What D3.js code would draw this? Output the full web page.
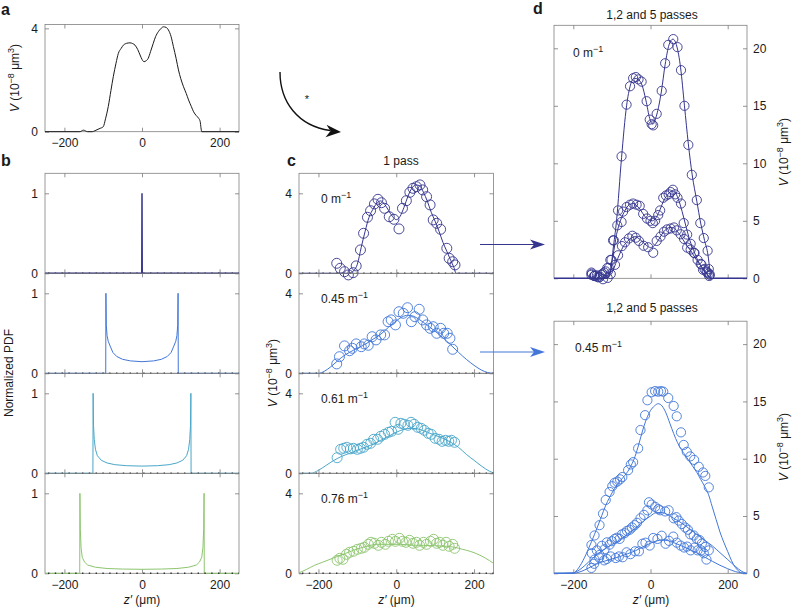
<!DOCTYPE html>
<html><head><meta charset="utf-8">
<script src="https://cdn.jsdelivr.net/npm/d3@7"></script>
<style>body{margin:0;background:#fff}</style>
</head><body><svg id="c" width="792" height="612"></svg>
<script>
// ---------------- DATA ----------------
const zDomain = [-250, 250];
const zTicks = [-200, 0, 200];
const aTicks = [0, 4];
const bTicks = [0, 1];
const cTicks = [0, 4];
const dTicks = [0, 5, 10, 15, 20];
const fieldLabels = ["0", "0.45", "0.61", "0.76"];
const colors = ["#35358f", "#4277d8", "#4aa7c9", "#8dc56f"];

// panel a: initial profile
const profileA = [[-250,0],[-160,0],[-151,0.06],[-140,0],[-128,0],[-121,0.04],[-108,0.13],[-100,0.19],[-94,0.5],[-87,0.97],[-80,1.6],[-74,2.13],[-67,2.65],[-61,3.03],[-54,3.22],[-48,3.35],[-40,3.42],[-31,3.44],[-24,3.41],[-18,3.35],[-11,3.18],[-5,2.97],[0,2.8],[5,2.71],[10,2.74],[16,2.84],[22,3.1],[29,3.42],[35,3.68],[42,3.87],[48,3.98],[55,4.06],[62,4.04],[68,3.94],[75,3.68],[81,3.29],[88,2.83],[94,2.39],[100,2.05],[107,1.74],[114,1.48],[120,1.23],[127,0.98],[133,0.77],[140,0.62],[146,0.52],[150,0.39],[152,0.15],[154,0],[250,0]];

// panel b: normalized PDFs
const pdf0 = [[-250,0],[-0.6,0],[0,1],[0.6,0],[250,0]];
const pdf45 = [[-250,0],[-93.5,0],[-93,1],[-92,0.6],[-90,0.47],[-87,0.4],[-82,0.34],[-75,0.26],[-65,0.21],[-50,0.175],[-30,0.155],[0,0.145],[30,0.155],[50,0.175],[65,0.21],[75,0.26],[82,0.34],[87,0.4],[90,0.47],[92,0.6],[93,1],[93.5,0],[250,0]];
const pdf61 = [[-250,0],[-126.5,0],[-126,1],[-125,0.6],[-123,0.42],[-120,0.3],[-115,0.22],[-105,0.163],[-90,0.129],[-70,0.108],[-40,0.095],[0,0.09],[40,0.095],[70,0.108],[90,0.129],[105,0.163],[115,0.22],[120,0.3],[123,0.42],[125,0.6],[126,1],[126.5,0],[250,0]];
const pdf76 = [[-250,0],[-160.5,0],[-160,1],[-159,0.55],[-157,0.32],[-154,0.2],[-148,0.14],[-140,0.103],[-120,0.076],[-90,0.06],[-50,0.053],[0,0.05],[50,0.053],[90,0.06],[120,0.076],[140,0.103],[148,0.14],[154,0.2],[157,0.32],[159,0.55],[160,1],[160.5,0],[250,0]];

// panel c: 1 pass, measured (circles) and model (line)
const pass1Pts0 = [[-153,0.5],[-144,0.25],[-133,0.08],[-123,-0.08],[-111,0.03],[-103,0.37],[-92,1.17],[-84,2.0],[-74,2.8],[-66,3.13],[-56,3.47],[-47,3.7],[-38,3.53],[-30,3.25],[-18,2.83],[-6,2.7],[7,2.22],[16,3.25],[26,3.63],[35,4.05],[43,4.25],[52,4.33],[61,4.42],[68,4.17],[78,3.83],[87,3.42],[95,2.67],[104,2.5],[114,2.2],[130,1.25],[136,0.75],[145,0.58],[151,0.42]];
const pass1Line0 = [[-250,0],[-120,0],[-110,0.12],[-100,0.45],[-90,1.3],[-80,2.1],[-70,2.8],[-60,3.2],[-50,3.5],[-40,3.62],[-30,3.45],[-20,3.15],[-10,2.85],[0,2.68],[10,2.85],[20,3.3],[30,3.85],[40,4.25],[50,4.42],[60,4.38],[70,4.05],[80,3.6],[90,3.05],[100,2.6],[110,2.1],[120,1.55],[130,1.1],[140,0.65],[148,0.3],[154,0],[250,0]];
const pass1Pts45 = [[-153,0.47],[-146,0.83],[-133,1.37],[-120,1.13],[-113,1.25],[-103,1.47],[-90,1.33],[-82,1.47],[-72,1.4],[-62,1.83],[-52,1.67],[-40,1.92],[-30,1.92],[-21,2.58],[-13,2.67],[-2,2.42],[7,3.08],[18,3.0],[29,3.28],[39,2.58],[48,2.83],[59,3.2],[68,2.67],[78,2.42],[87,2.25],[95,2.33],[104,2.0],[114,2.25],[122,2.0],[131,2.0],[138,1.75],[145,1.2]];
const pass1Line45 = [[-250,0],[-200,0],[-185,0.1],[-170,0.3],[-155,0.55],[-140,0.8],[-120,1.05],[-100,1.25],[-80,1.45],[-60,1.7],[-40,1.95],[-20,2.3],[0,2.62],[15,2.82],[30,2.9],[45,2.85],[60,2.68],[80,2.4],[100,2.1],[120,1.78],[140,1.42],[160,1.05],[180,0.7],[200,0.4],[220,0.15],[235,0.04],[250,0]];
const pass1Pts61 = [[-152,0.78],[-143,1.2],[-135,1.25],[-127,1.3],[-118,1.22],[-110,1.25],[-100,1.2],[-92,1.25],[-84,1.3],[-75,1.45],[-66,1.5],[-58,1.7],[-48,1.7],[-40,1.85],[-30,1.95],[-20,2.05],[-12,2.1],[-3,2.55],[5,2.2],[12,2.5],[20,2.45],[30,2.4],[38,2.55],[46,2.45],[55,2.3],[64,2.25],[72,2.15],[82,2.0],[90,1.95],[100,1.75],[110,1.7],[118,1.6],[127,1.65],[135,1.6],[142,1.65],[150,1.55]];
const pass1Line61 = [[-250,0],[-220,0],[-200,0.15],[-180,0.4],[-160,0.65],[-140,0.85],[-120,1.0],[-100,1.15],[-80,1.3],[-60,1.45],[-40,1.65],[-20,1.85],[0,2.05],[20,2.2],[40,2.25],[60,2.2],[80,2.05],[100,1.9],[120,1.75],[140,1.55],[160,1.3],[180,0.95],[200,0.65],[220,0.35],[240,0.1],[250,0.02]];
const pass1Pts76 = [[-152,0.65],[-145,0.75],[-137,0.7],[-128,0.95],[-120,1.05],[-110,1.1],[-100,1.2],[-90,1.25],[-82,1.3],[-72,1.45],[-65,1.55],[-56,1.5],[-46,1.4],[-38,1.55],[-28,1.45],[-20,1.6],[-10,1.7],[-2,1.6],[8,1.75],[16,1.6],[25,1.55],[34,1.65],[43,1.5],[52,1.55],[60,1.4],[70,1.55],[78,1.45],[88,1.6],[96,1.7],[104,1.5],[112,1.55],[120,1.4],[128,1.55],[136,1.35],[145,1.45],[150,1.25]];
const pass1Line76 = [[-250,0.02],[-230,0.2],[-210,0.4],[-190,0.55],[-170,0.7],[-150,0.85],[-130,1.0],[-110,1.15],[-90,1.28],[-70,1.38],[-50,1.45],[-30,1.45],[-10,1.45],[10,1.45],[30,1.42],[50,1.4],[70,1.4],[90,1.38],[110,1.37],[130,1.35],[150,1.3],[170,1.2],[190,1.1],[210,0.95],[230,0.75],[250,0.5]];

// panel d: 2 and 5 passes
const pass2Pts0 = [[-152,0.4],[-145,0.2],[-137,0.1],[-128,0.3],[-120,0.5],[-112,0.9],[-104,1.6],[-97,3.3],[-86,4.6],[-75,4.9],[-71,5.8],[-62,6.2],[-53,6.4],[-45,6.5],[-36,6.4],[-28,6.3],[-19,5.6],[-9,5.2],[0,5.0],[6,4.8],[12,5.0],[20,5.5],[25,5.9],[33,7.0],[40,7.2],[47,7.3],[52,7.5],[58,7.7],[64,7.3],[70,7.0],[79,6.5],[86,4.8],[95,3.8],[104,3.0],[113,2.2],[122,1.6],[132,1.2],[140,0.8],[147,0.5],[152,0.2]];
const pass2Line0 = [[-250,0],[-115,0],[-106,0.4],[-97,2.0],[-88,3.8],[-78,5.0],[-66,5.9],[-55,6.4],[-45,6.5],[-35,6.3],[-25,5.9],[-15,5.4],[-5,5.1],[5,5.0],[15,5.3],[25,6.0],[35,6.8],[45,7.3],[55,7.6],[63,7.5],[72,6.9],[82,5.8],[92,4.5],[102,3.3],[112,2.4],[122,1.6],[132,1.0],[142,0.5],[150,0.2],[155,0],[250,0]];
const pass5Pts0 = [[-153,0.3],[-146,0.2],[-139,0.25],[-131,0.15],[-124,0.4],[-116,0.6],[-108,0.9],[-101,1.6],[-95,3.3],[-84,5.9],[-75,10.6],[-62,15.1],[-53,16.7],[-45,17.4],[-38,17.5],[-31,17.3],[-23,17.1],[-10,15.4],[-2,13.8],[3,13.4],[7,13.3],[16,14.3],[29,16.3],[38,18.7],[46,20.3],[59,20.8],[70,20.1],[79,18.1],[88,15.0],[98,11.6],[107,9.0],[120,6.8],[129,4.8],[138,3.5],[148,2.4],[151,0.8],[154,0.3]];
const pass5Line0 = [[-250,0],[-112,0],[-104,0.5],[-97,2.5],[-88,5.0],[-75,10.5],[-62,15.0],[-52,16.8],[-42,17.4],[-32,17.3],[-22,16.8],[-12,15.5],[-2,13.9],[6,13.4],[16,14.2],[28,16.2],[38,18.6],[48,20.3],[58,20.8],[68,20.2],[78,18.3],[88,15.0],[98,11.7],[108,9.0],[120,6.7],[130,4.8],[140,3.3],[149,2.0],[154,0.6],[156,0],[250,0]];
const pass2Pts45 = [[-152,1.75],[-145,1.2],[-139,2.0],[-132,1.6],[-126,2.4],[-119,2.1],[-113,2.7],[-106,2.5],[-100,2.8],[-93,3.0],[-87,3.1],[-80,3.0],[-74,3.4],[-67,3.5],[-61,3.7],[-54,3.8],[-48,4.0],[-41,4.2],[-35,4.4],[-26,4.8],[-17,5.1],[-8,5.5],[-4,6.2],[3,6.0],[12,5.8],[20,5.6],[25,5.5],[38,5.4],[47,5.5],[60,4.8],[67,4.9],[73,4.6],[81,4.3],[90,4.0],[97,3.8],[103,3.4],[112,3.3],[120,3.0],[127,2.9],[133,2.6],[142,2.3],[151,2.0]];
const pass2Line45 = [[-250,0],[-200,0.05],[-180,0.4],[-160,1.0],[-140,1.6],[-120,2.1],[-100,2.5],[-80,2.9],[-60,3.4],[-40,3.9],[-20,4.5],[0,5.0],[15,5.3],[30,5.3],[45,5.1],[60,4.8],[80,4.4],[100,3.9],[120,3.4],[140,2.9],[160,2.4],[180,1.8],[200,1.2],[220,0.6],[235,0.2],[248,0]];
const pass5Pts45 = [[-153,2.47],[-145,3.3],[-132,4.2],[-123,5.2],[-116,6.4],[-106,7.1],[-99,7.6],[-93,7.9],[-86,8.0],[-79,8.2],[-73,8.4],[-58,9.0],[-51,9.5],[-45,9.7],[-32,10.9],[-26,12.5],[-14,13.8],[-8,15.1],[3,15.8],[12,15.9],[20,15.85],[27,15.9],[33,15.85],[46,15.3],[60,14.6],[68,13.7],[79,12.3],[86,11.2],[94,10.6],[103,10.2],[113,9.9],[125,9.3],[136,8.8],[142,8.5],[151,7.5]];
const pass5Line45 = [[-250,0],[-200,0],[-190,0.3],[-175,1.1],[-160,2.2],[-145,3.4],[-130,4.7],[-115,6.0],[-100,7.0],[-85,7.8],[-70,8.4],[-55,9.1],[-40,10.2],[-30,11.3],[-20,12.5],[-10,13.5],[0,14.2],[10,14.6],[20,14.8],[30,14.6],[40,14.0],[50,13.1],[60,12.2],[70,11.4],[80,10.8],[90,10.3],[100,9.8],[110,9.3],[120,8.8],[130,8.2],[140,7.6],[150,6.9],[160,5.8],[170,4.7],[180,3.6],[190,2.7],[200,1.9],[210,1.1],[220,0.5],[230,0.15],[240,0],[250,0]];

// ---------------- DRAWING ----------------
const FONT = "'Liberation Sans', Arial, Helvetica, sans-serif";
const FS = 12;
const svg = d3.select("#c");

function styleAxis(a) {
  a.select(".domain").remove();
  a.selectAll("line").attr("stroke", "#777").attr("stroke-width", 0.8);
  a.selectAll("text").attr("font-family", FONT).attr("font-size", FS).attr("fill", "#1a1a1a");
  return a;
}

function frame(xr, yr, yDom, yTickVals, opts) {
  const x = d3.scaleLinear().domain(zDomain).range(xr);
  const y = d3.scaleLinear().domain(yDom).range(yr);
  const g = svg.append("g");
  g.append("rect").attr("x", xr[0]).attr("y", yr[1]).attr("width", xr[1] - xr[0])
    .attr("height", yr[0] - yr[1]).attr("fill", "none").attr("stroke", "#808080").attr("stroke-width", 0.8);
  styleAxis(g.append("g").attr("transform", `translate(0,${yr[0]})`)
    .call(d3.axisBottom(x).tickValues(zTicks).tickSize(-4).tickSizeOuter(0).tickPadding(7)
      .tickFormat(opts.xLabels ? d3.format("d") : () => "")));
  styleAxis(g.append("g").attr("transform", `translate(0,${yr[1]})`)
    .call(d3.axisTop(x).tickValues(zTicks).tickSize(-4).tickSizeOuter(0).tickFormat(() => "")));
  styleAxis(g.append("g").attr("transform", `translate(${xr[0]},0)`)
    .call(d3.axisLeft(y).tickValues(yTickVals).tickSize(-4).tickSizeOuter(0).tickPadding(7)
      .tickFormat(opts.yRight ? () => "" : d3.format("d"))));
  styleAxis(g.append("g").attr("transform", `translate(${xr[1]},0)`)
    .call(d3.axisRight(y).tickValues(yTickVals).tickSize(-4).tickSizeOuter(0).tickPadding(6)
      .tickFormat(opts.yRight ? d3.format("d") : () => "")));
  const plot = g.append("g");
  return { x, y, g: plot };
}

function drawLine(f, data, color, width, curve) {
  f.g.append("path").datum(data)
    .attr("d", d3.line().x(d => f.x(d[0])).y(d => f.y(d[1])).curve(curve || d3.curveMonotoneX))
    .attr("fill", "none").attr("stroke", color).attr("stroke-width", width || 1);
}
function drawDots(f) {
  f.g.append("line").attr("x1", f.x(zDomain[0]) + 3).attr("x2", f.x(zDomain[1]))
    .attr("y1", f.y(0)).attr("y2", f.y(0)).attr("stroke", "#333").attr("stroke-width", 1.4)
    .attr("stroke-dasharray", "1.4,5.4");
}
function drawCircles(f, data, color, r) {
  f.g.selectAll(null).data(data).enter().append("circle")
    .attr("cx", d => f.x(d[0])).attr("cy", d => f.y(d[1])).attr("r", r)
    .attr("fill", "none").attr("stroke", color).attr("stroke-width", 0.9);
}
function txt(x, y, s, opt = {}) {
  const t = svg.append("text").attr("x", x).attr("y", y).attr("font-family", FONT)
    .attr("font-size", opt.size || FS).attr("fill", "#1a1a1a")
    .attr("text-anchor", opt.anchor || "start");
  if (s) t.text(s);
  if (opt.bold) t.attr("font-weight", "bold");
  if (opt.rotate) t.attr("transform", `rotate(${opt.rotate},${x},${y})`);
  return t;
}
function fieldLabel(x, y, v) {
  const t = txt(x, y, "");
  t.append("tspan").text(v + " m");
  t.append("tspan").attr("dy", -5).attr("font-size", 9).text("\u22121");
}
function vLabel(x, y, rot, anchor) {
  const t = txt(x, y, "", { rotate: rot, anchor: anchor || "middle" });
  t.append("tspan").attr("font-style", "italic").text("V");
  t.append("tspan").text(" (10");
  t.append("tspan").attr("dy", -5).attr("font-size", 9).text("\u22128");
  t.append("tspan").attr("dy", 5).text(" \u03bcm");
  t.append("tspan").attr("dy", -5).attr("font-size", 9).text("3");
  t.append("tspan").attr("dy", 5).text(")");
}
function zLabel(x, y) {
  const t = txt(x, y, "", { anchor: "middle" });
  t.append("tspan").attr("font-style", "italic").text("z\u2032");
  t.append("tspan").text(" (\u03bcm)");
}

// panel a
const fa = frame([45, 239], [131.7, 24.5], [0, 4.15], aTicks, { xLabels: true });
drawLine(fa, profileA, "#1a1a1a", 1);
vLabel(19, 78, -90);
txt(1, 15, "a", { bold: true, size: 16 });

// panel b
const pdfs = [pdf0, pdf45, pdf61, pdf76];
pdfs.forEach((p, i) => {
  const top = 173.3 + 100 * i;
  const f = frame([45, 239], [top + 100, top], [0, 1.25], bTicks, { xLabels: i === 3 });
  drawLine(f, p, colors[i], i === 0 ? 1.5 : 1, d3.curveLinear);
  drawDots(f);
});
txt(13, 373, "Normalized PDF", { rotate: -90, anchor: "middle" });
zLabel(142, 604);
txt(1, 166, "b", { bold: true, size: 16 });

// panel c
const cPts = [pass1Pts0, pass1Pts45, pass1Pts61, pass1Pts76];
const cLines = [pass1Line0, pass1Line45, pass1Line61, pass1Line76];
cPts.forEach((p, i) => {
  const top = 173.3 + 100 * i;
  const f = frame([299, 493.5], [top + 100, top], [0, 5], cTicks, { xLabels: i === 3 });
  drawLine(f, cLines[i], colors[i], 1);
  drawDots(f);
  drawCircles(f, p, colors[i], 5);
  fieldLabel(321, top + 29.5, fieldLabels[i]);
});
vLabel(277, 373, -90);
zLabel(396.5, 604);
txt(287, 166, "c", { bold: true, size: 16 });
txt(401, 165, "1 pass", { anchor: "middle" });

// panel d
const fdt = frame([554, 747], [278.3, 25.3], [0, 22], dTicks, { xLabels: false, yRight: true });
[[pass1Line0, pass1Pts0], [pass2Line0, pass2Pts0], [pass5Line0, pass5Pts0]].forEach(([l, p]) => {
  drawLine(fdt, l, colors[0], 1);
  drawCircles(fdt, p, colors[0], 4.6);
});
fieldLabel(573, 56.5, fieldLabels[0]);
const fdb = frame([554, 747], [573.3, 321.2], [0, 22], dTicks, { xLabels: true, yRight: true });
[[pass1Line45, pass1Pts45], [pass2Line45, pass2Pts45], [pass5Line45, pass5Pts45]].forEach(([l, p]) => {
  drawLine(fdb, l, colors[1], 1);
  drawCircles(fdb, p, colors[1], 4.6);
});
fieldLabel(575, 351.5, fieldLabels[1]);
txt(652, 19, "1,2 and 5 passes", { anchor: "middle" });
txt(652, 311.5, "1,2 and 5 passes", { anchor: "middle" });
txt(533, 14, "d", { bold: true, size: 16 });
vLabel(788, 152, -90);
vLabel(788, 447, -90);
zLabel(651, 604);

// arrows between c and d
function straightArrow(y, color) {
  svg.append("line").attr("x1", 480).attr("x2", 536).attr("y1", y).attr("y2", y)
    .attr("stroke", color).attr("stroke-width", 1);
  svg.append("path").attr("d", `M545,${y} L530,${y - 5} L534,${y} L530,${y + 5} Z`).attr("fill", color);
}
straightArrow(244.5, colors[0]);
straightArrow(352, colors[1]);

// curved arrow
svg.append("path").attr("d", "M280,72 C280,102 298,126 330,130.5")
  .attr("fill", "none").attr("stroke", "#111").attr("stroke-width", 1.4);
svg.append("path").attr("d", "M341,132 L326.5,124.8 L330.5,131 L325.5,137.2 Z").attr("fill", "#111");
txt(307, 103, "*", { anchor: "middle", size: 11 });
</script></body></html>
